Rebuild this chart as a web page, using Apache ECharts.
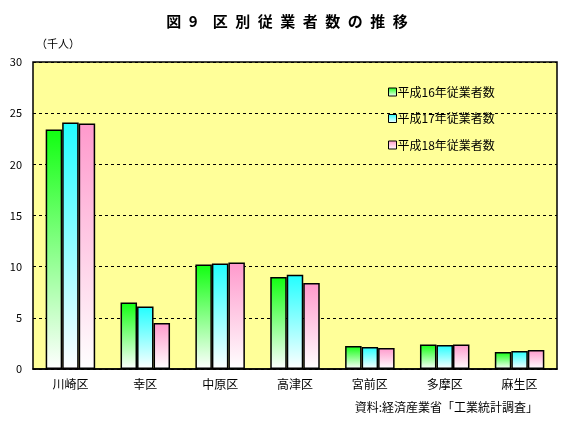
<!DOCTYPE html>
<html><head><meta charset="utf-8">
<script src="https://cdn.jsdelivr.net/npm/echarts@6/dist/echarts.min.js"></script>
<style>html,body{margin:0;padding:0;background:#fff}#c{width:574px;height:424px}</style>
</head><body><div id="c"></div>
<script>
const categories = ['川崎区','幸区','中原区','高津区','宮前区','多摩区','麻生区'];
const seriesNames = ['平成16年従業者数','平成17年従業者数','平成18年従業者数'];
const h16 = [23.4, 6.5, 10.2, 9.0, 2.25, 2.4, 1.65];
const h17 = [24.1, 6.1, 10.3, 9.2, 2.15, 2.35, 1.75];
const h18 = [24.0, 4.5, 10.4, 8.4, 2.05, 2.4, 1.85];
const yTicks = [0,5,10,15,20,25,30];

const font = '"Noto Sans CJK JP", sans-serif';
function grad(c){
  return new echarts.graphic.LinearGradient(0,0,0,1,[{offset:0,color:c},{offset:1,color:'#ffffff'}]);
}
const colors = ['#11ff11','#22ffff','#ff99cc'];
const data = [h16,h17,h18];
const sp = '\u2002';
const titleText = '図' + sp + '9\u3000' + '区別従業者数の推移'.split('').join(sp);
const chart = echarts.init(document.getElementById('c'));
chart.setOption({
  backgroundColor:'#ffffff',
  animation:false,
  title:{text:titleText,left:'center',top:9,
    textStyle:{fontFamily:font,fontSize:15,fontWeight:'bold',color:'#000'}},
  grid:{left:33,right:17,top:62,bottom:55,show:true,backgroundColor:'#ffff99',borderColor:'#000',borderWidth:1.5},
  legend:{orient:'vertical',left:383,top:81,itemWidth:8,itemHeight:8,itemGap:14.5,icon:'rect',
    itemStyle:{borderWidth:1,borderColor:'#000'},
    textStyle:{fontFamily:font,fontSize:12,color:'#000',padding:[0,0,0,-4]},
    data:seriesNames},
  graphic:[
    {type:'text',left:36,top:38,style:{text:'（千人）',font:'11px '+font,fill:'#000'}},
    {type:'text',right:36,top:401,style:{text:'資料:経済産業省「工業統計調査」',font:'12px '+font,fill:'#000'}}
  ],
  xAxis:{type:'category',data:categories,
    axisLine:{lineStyle:{color:'#000',width:1.5}},
    axisTick:{inside:true,length:4,lineStyle:{color:'#000'}},
    axisLabel:{fontFamily:font,fontSize:12,color:'#000',margin:9},
    splitLine:{show:false}},
  yAxis:{type:'value',min:0,max:30,interval:5,
    axisLine:{show:false},axisTick:{show:false},
    axisLabel:{fontFamily:font,fontSize:11,color:'#000',margin:11},
    splitLine:{lineStyle:{color:'#000',type:[3,3],width:1}}},
  series:data.map((d,i)=>({
    name:seriesNames[i],type:'bar',data:d,barWidth:16.5,barGap:'0%',
    itemStyle:{color:grad(colors[i]),borderColor:'#000',borderWidth:1.5}
  }))
});
</script></body></html>
